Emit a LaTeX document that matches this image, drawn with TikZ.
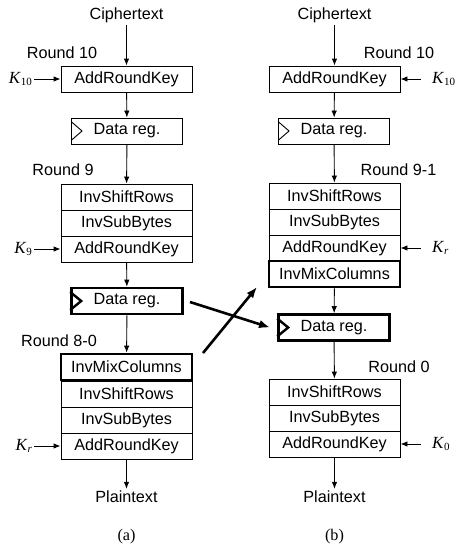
\documentclass[tikz,border=0pt]{standalone}
\usepackage{fontspec}
\setmainfont{Liberation Sans}
\newfontfamily\serifrm{Liberation Serif}
\usetikzlibrary{arrows.meta,calc}
\newcommand{\keyK}[1]{{\serifrm\fontsize{17}{19}\selectfont\itshape K}\kern0.5pt\raisebox{-2.5pt}{\serifrm\fontsize{11}{11}\selectfont #1}}
\begin{document}
\begin{tikzpicture}[x=1pt,y=-1pt,
  font=\fontsize{16.2}{19}\selectfont,
  box/.style={draw, line width=0.9pt, minimum width=131pt, minimum height=26pt, inner sep=0pt},
  tbox/.style={box, line width=2.6pt},
  reg/.style={box, minimum width=111pt},
  treg/.style={reg, line width=2.6pt},
  arr/.style={-{Latex[length=7pt,width=5.5pt]}, line width=0.9pt},
  bigarr/.style={-{Latex[length=11pt,width=8.5pt]}, line width=2.6pt},
  lbl/.style={inner sep=2pt},
  kl/.style={anchor=east, inner xsep=2pt, inner ysep=0pt},
  kr/.style={anchor=west, inner xsep=11pt, inner ysep=0pt}]
\useasboundingbox (0,0) rectangle (456,546);

% ---------- left column (a) ----------
\node[lbl] (ctL) at (126.5,15) {Ciphertext};
\node[box] (arkL10) at (126.5,79) {AddRoundKey};
\node[reg] (drL1) at (127,131) {Data reg.};
\node[box] (isrL9) at (126.5,197) {InvShiftRows};
\node[box] (isbL9) at (126.5,223) {InvSubBytes};
\node[box] (arkL9) at (126.5,249) {AddRoundKey};
\node[treg] (drL2) at (127,301) {Data reg.};
\node[tbox] (imcL) at (126.5,367) {InvMixColumns};
\node[box] (isrL8) at (126.5,394) {InvShiftRows};
\node[box] (isbL8) at (126.5,420) {InvSubBytes};
\node[box] (arkL8) at (126.5,446) {AddRoundKey};
\node[lbl] (ptL) at (126.5,497) {Plaintext};
\node (capA) at (126.5,537) {\serifrm (a)};

\node (rL10) at (62,53) {Round 10};
\node (rL9) at (63,170) {Round 9};
\node (rL8) at (59,341) {Round 8-0};

\node[kl] (kL10) at (34,79) {\keyK{10}};
\node[kl] (kL9) at (34,249) {\keyK{9}};
\node[kl] (kLr) at (34,446) {\keyK{\itshape r}};

\draw[arr] (ctL) -- (arkL10);
\draw[arr] (arkL10) -- (drL1);
\draw[arr] (drL1) -- (isrL9);
\draw[arr] (arkL9) -- (drL2);
\draw[arr] (drL2) -- (imcL);
\draw[arr] (arkL8) -- (ptL);
\draw[arr] (kL10) -- (arkL10);
\draw[arr] (kL9) -- (arkL9);
\draw[arr] (kLr) -- (arkL8);

% ---------- right column (b) ----------
\node[lbl] (ctR) at (334.5,15) {Ciphertext};
\node[box] (arkR10) at (334.5,79) {AddRoundKey};
\node[reg] (drR1) at (334,131) {Data reg.};
\node[box] (isrR9) at (334.5,196) {InvShiftRows};
\node[box] (isbR9) at (334.5,222) {InvSubBytes};
\node[box] (arkR9) at (334.5,248) {AddRoundKey};
\node[tbox] (imcR) at (334.5,274) {InvMixColumns};
\node[treg] (drR2) at (334,327.5) {Data reg.};
\node[box] (isrR0) at (334.5,392) {InvShiftRows};
\node[box] (isbR0) at (334.5,418) {InvSubBytes};
\node[box] (arkR0) at (334.5,444) {AddRoundKey};
\node[lbl] (ptR) at (334.5,497) {Plaintext};
\node (capB) at (334.5,537) {\serifrm (b)};

\node (rR10) at (399,53) {Round 10};
\node (rR9) at (398.5,170) {Round 9-1};
\node (rR0) at (399,367) {Round 0};

\node[kr] (kR10) at (421,79) {\keyK{10}};
\node[kr] (kRr) at (421,248) {\keyK{\itshape r}};
\node[kr] (kR0) at (421,444) {\keyK{0}};

\draw[arr] (ctR) -- (arkR10);
\draw[arr] (arkR10) -- (drR1);
\draw[arr] (drR1) -- (isrR9);
\draw[arr] (imcR) -- (drR2);
\draw[arr] (drR2) -- (isrR0);
\draw[arr] (arkR0) -- (ptR);
\draw[arr] (kR10) -- (arkR10);
\draw[arr] (kRr) -- (arkR9);
\draw[arr] (kR0) -- (arkR0);

% ---------- clock triangles ----------
\draw[line width=0.9pt] ($(drL1.west)+(0,-9.5)$) -- ($(drL1.west)+(11,0)$) -- ($(drL1.west)+(0,9.5)$);
\draw[line width=0.9pt] ($(drR1.west)+(0,-9.5)$) -- ($(drR1.west)+(11,0)$) -- ($(drR1.west)+(0,9.5)$);
\draw[line width=2.4pt] ($(drL2.west)+(0,-9)$) -- ($(drL2.west)+(11,0)$) -- ($(drL2.west)+(0,9)$);
\draw[line width=2.4pt] ($(drR2.west)+(0,-9)$) -- ($(drR2.west)+(11,0)$) -- ($(drR2.west)+(0,9)$);

% ---------- crossing arrows ----------
\coordinate (c1s) at (190,302);
\coordinate (c1e) at (270,327.5);
\coordinate (c2s) at (203,353);
\coordinate (c2e) at (257,287);
\draw[bigarr] (c1s) -- (c1e);
\draw[bigarr] (c2s) -- (c2e);
\end{tikzpicture}
\end{document}
